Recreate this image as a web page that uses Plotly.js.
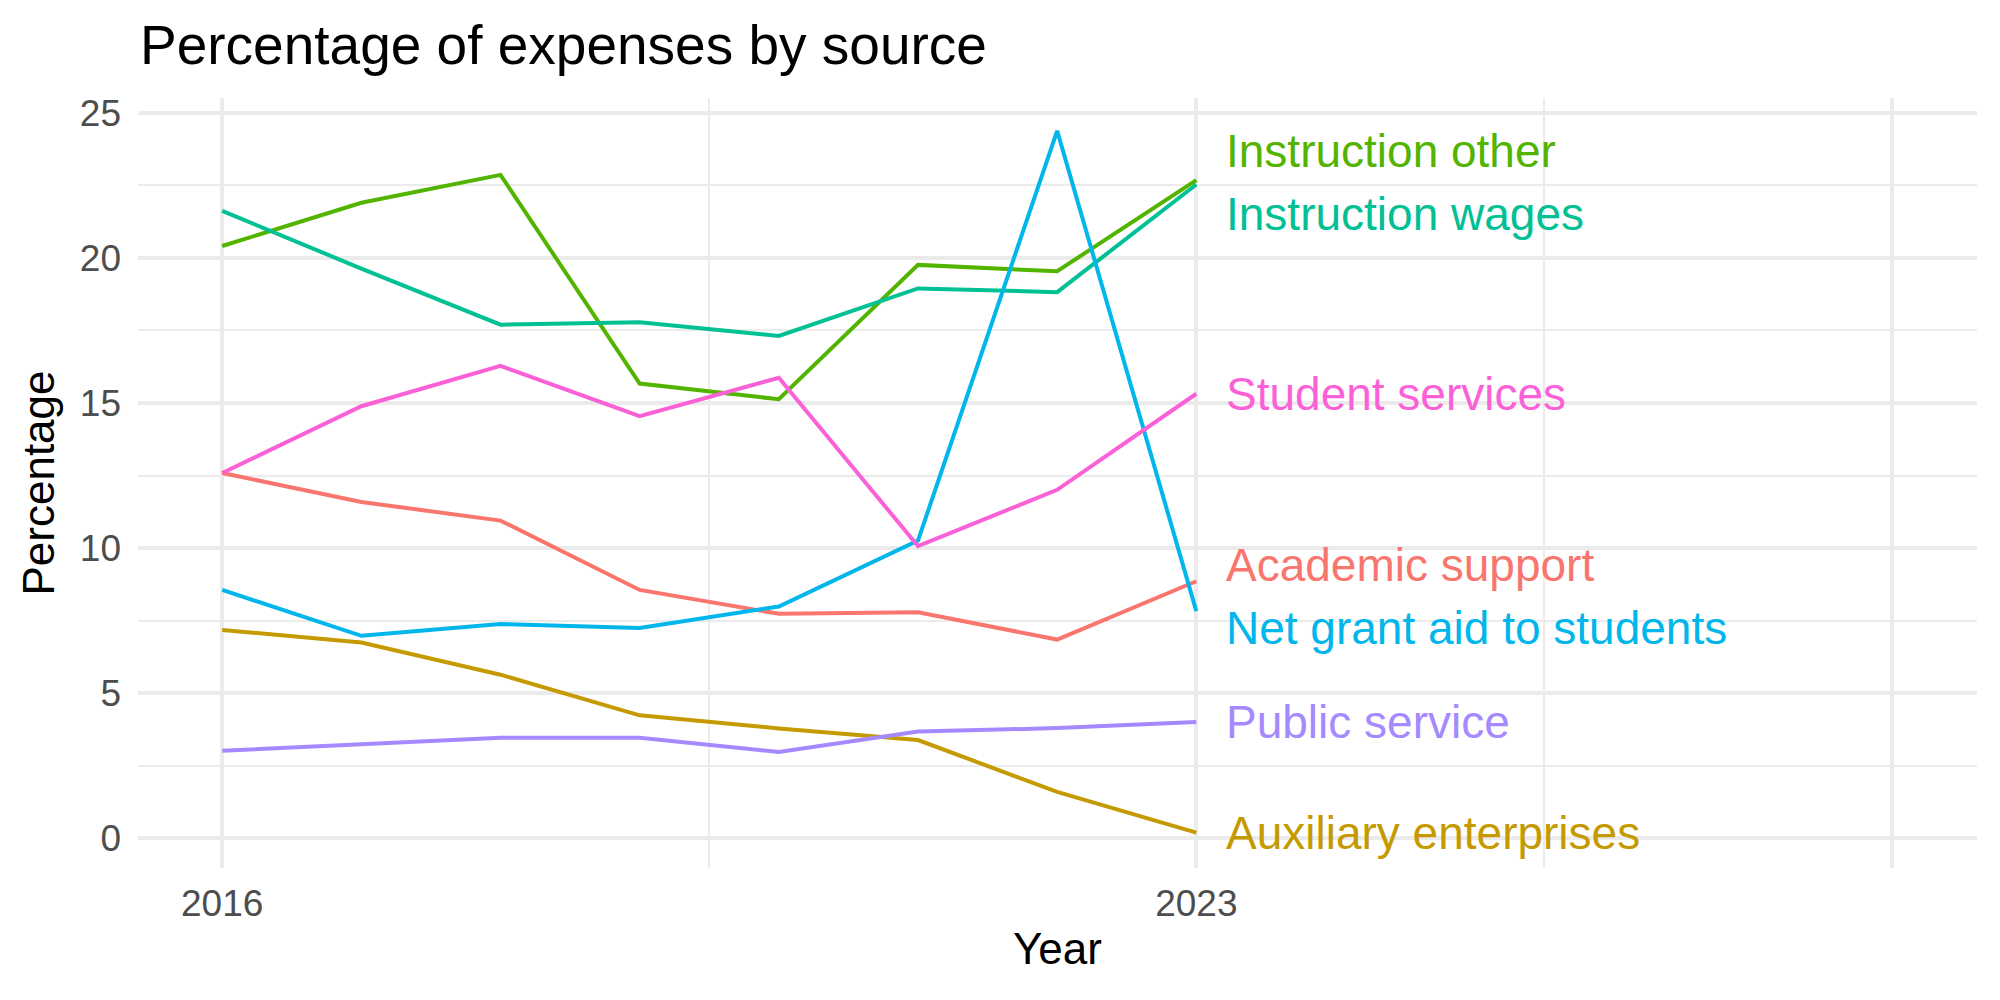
<!DOCTYPE html>
<html>
<head>
<meta charset="utf-8">
<script src="https://cdn.plot.ly/plotly-3.0.1.min.js"></script>
<style>
  html, body { margin: 0; padding: 0; background: #ffffff; }
  #chart { width: 2000px; height: 1000px; }
</style>
</head>
<body>
<div id="chart"></div>
<script>
// Share of expenses by source, 2016-2023 (percent)
const years = [2016, 2017, 2018, 2019, 2020, 2021, 2022, 2023];

const academicSupport      = [12.59, 11.59, 10.95, 8.56, 7.74, 7.79, 6.85, 8.86];
const auxiliaryEnterprises = [7.18, 6.75, 5.64, 4.24, 3.79, 3.39, 1.60, 0.20];
const instructionOther     = [20.41, 21.90, 22.86, 15.67, 15.13, 19.76, 19.54, 22.68];
const instructionWages     = [21.62, 19.63, 17.70, 17.78, 17.31, 18.95, 18.82, 22.53];
const netGrantAid          = [8.56, 6.98, 7.39, 7.25, 7.99, 10.26, 24.38, 7.83];
const publicService        = [3.02, 3.25, 3.47, 3.47, 2.98, 3.68, 3.80, 4.01];
const studentServices      = [12.59, 14.89, 16.28, 14.55, 15.87, 10.07, 12.01, 15.32];

const seriesNames = [
  "Academic support",
  "Auxiliary enterprises",
  "Instruction other",
  "Instruction wages",
  "Net grant aid to students",
  "Public service",
  "Student services"
];
const seriesValues = [
  academicSupport, auxiliaryEnterprises, instructionOther, instructionWages,
  netGrantAid, publicService, studentServices
];
const seriesColors = ["#F8766D", "#C49A00", "#53B400", "#00C094", "#00B6EB", "#A58AFF", "#FB61D7"];

const xTickVals = [2016, 2023, 2028];
const xTickText = ["2016", "2023", ""];
const yTickVals = [0, 5, 10, 15, 20, 25];

// Layout geometry
const W = 2000, H = 1000;
const margin = { l: 138, r: 23, t: 98, b: 132 };
const xRange = [2015.395, 2028.61];
const yRange = [-1.02, 25.51];
const FONT = '"Liberation Sans", Arial, Helvetica, sans-serif';

const traces = seriesNames.map((name, i) => ({
  type: "scatter",
  mode: "lines",
  name: name,
  x: years,
  y: seriesValues[i],
  line: { color: seriesColors[i], width: 4 },
  hoverinfo: "x+y+name",
  showlegend: false
}));

// End-of-line labels: start at each series' final value and push apart
// so that neighbouring labels keep a minimum vertical distance.
const plotH = H - margin.t - margin.b;
const pxPerUnit = plotH / (yRange[1] - yRange[0]);
const minGap = 63 / pxPerUnit;
const lastIdx = years.length - 1;
const order = seriesNames.map((_, i) => i)
  .sort((a, b) => seriesValues[b][lastIdx] - seriesValues[a][lastIdx]);
const labelY = seriesValues.map(v => v[lastIdx]);
for (let iter = 0; iter < 200; iter++) {
  let moved = false;
  for (let k = 0; k < order.length - 1; k++) {
    const a = order[k], b = order[k + 1];
    const d = labelY[a] - labelY[b];
    if (d < minGap - 1e-6) {
      const push = (minGap - d) / 2;
      labelY[a] += push;
      labelY[b] -= push;
      moved = true;
    }
  }
  if (!moved) break;
}

const labelAnnotations = seriesNames.map((name, i) => ({
  x: years[lastIdx],
  y: labelY[i],
  xref: "x",
  yref: "y",
  text: name,
  showarrow: false,
  xanchor: "left",
  yanchor: "middle",
  xshift: 28,
  font: { family: FONT, size: 46, color: seriesColors[i] }
}));

const layout = {
  width: W,
  height: H,
  margin: margin,
  paper_bgcolor: "#ffffff",
  plot_bgcolor: "#ffffff",
  font: { family: FONT, color: "#4D4D4D" },
  title: {
    text: "Percentage of expenses by source",
    font: { family: FONT, size: 55, color: "#000000" },
    xref: "container",
    yref: "container",
    x: 0.07,
    xanchor: "left",
    y: 0.955,
    yanchor: "middle"
  },
  xaxis: {
    range: xRange,
    tickmode: "array",
    tickvals: xTickVals,
    ticktext: xTickText,
    ticks: "",
    ticklabelstandoff: 10,
    tickfont: { family: FONT, size: 37, color: "#4D4D4D" },
    showgrid: true,
    gridcolor: "#EBEBEB",
    gridwidth: 4.3,
    minor: { tickmode: "array", tickvals: [2019.5, 2025.5], showgrid: true, gridcolor: "#EBEBEB", gridwidth: 2.2, ticks: "" },
    zeroline: false,
    showline: false,
    title: { text: "Year", font: { family: FONT, size: 44, color: "#000000" }, standoff: 10 },
    fixedrange: true
  },
  yaxis: {
    range: yRange,
    tickmode: "array",
    tickvals: yTickVals,
    ticks: "",
    ticklabelstandoff: 16,
    tickfont: { family: FONT, size: 37, color: "#4D4D4D" },
    showgrid: true,
    gridcolor: "#EBEBEB",
    gridwidth: 4.3,
    minor: { tickmode: "array", tickvals: [2.5, 7.5, 12.5, 17.5, 22.5], showgrid: true, gridcolor: "#EBEBEB", gridwidth: 2.2, ticks: "" },
    zeroline: false,
    showline: false,
    title: { text: "Percentage", font: { family: FONT, size: 44, color: "#000000" }, standoff: 11 },
    fixedrange: true
  },
  annotations: labelAnnotations,
  showlegend: false
};

Plotly.newPlot("chart", traces, layout, { displayModeBar: false, staticPlot: false });
</script>
</body>
</html>
